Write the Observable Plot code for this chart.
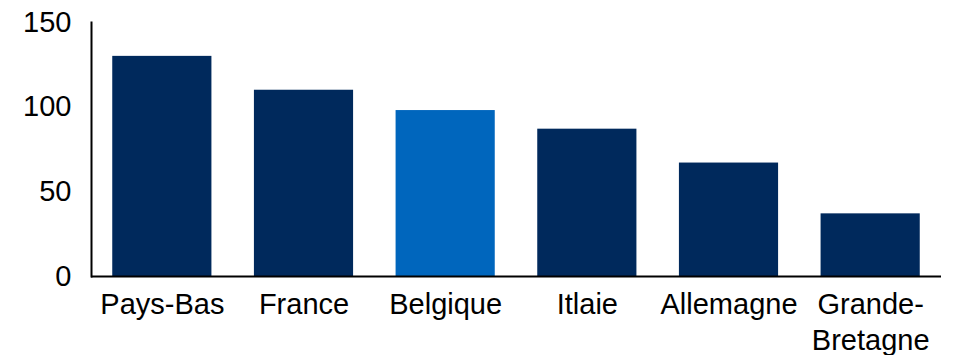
<!DOCTYPE html>
<html>
<head>
<meta charset="utf-8">
<script src="https://cdn.jsdelivr.net/npm/d3@7"></script>
<script src="https://cdn.jsdelivr.net/npm/@observablehq/plot@0.6"></script>
<style>
  html, body { margin: 0; padding: 0; background: #fff; }
</style>
</head>
<body>
<div id="chart"></div>
<script>
const countries = ["Pays-Bas", "France", "Belgique", "Itlaie", "Allemagne", "Grande-Bretagne"];
const countryLabels = ["Pays-Bas", "France", "Belgique", "Itlaie", "Allemagne", "Grande-\nBretagne"];
const values = [130, 110, 98, 87, 67, 37];
const highlighted = "Belgique";
const yTicks = [0, 50, 100, 150];

const data = countries.map((c, i) => ({country: c, value: values[i]}));
const FONT = "'Liberation Sans', Arial, sans-serif";
const FS = 29;

const chart = Plot.plot({
  width: 953,
  height: 355,
  marginLeft: 91,
  marginRight: 12,
  marginTop: 22,
  marginBottom: 79,
  style: {fontFamily: FONT, fontSize: FS + "px", color: "#000", background: "#fff"},
  x: {domain: countries, paddingInner: 0.3, paddingOuter: 0.15, round: false, label: null},
  y: {domain: [0, 150], label: null},
  marks: [
    Plot.barY(data, {
      x: "country",
      y: "value",
      fill: d => d.country === highlighted ? "#0066BD" : "#00295C"
    }),
    Plot.axisY({ticks: yTicks, tickSize: 0, tickPadding: 20, label: null, fontSize: FS}),
    Plot.axisX({
      tickSize: 0,
      tickPadding: 12,
      label: null,
      fontSize: FS,
      lineHeight: 1.24,
      tickFormat: d => countryLabels[countries.indexOf(d)]
    }),
    Plot.frame({anchor: "left", strokeWidth: 2, stroke: "#000"}),
    Plot.ruleY([0], {strokeWidth: 2, stroke: "#000"})
  ]
});
document.getElementById("chart").appendChild(chart);
</script>
</body>
</html>
